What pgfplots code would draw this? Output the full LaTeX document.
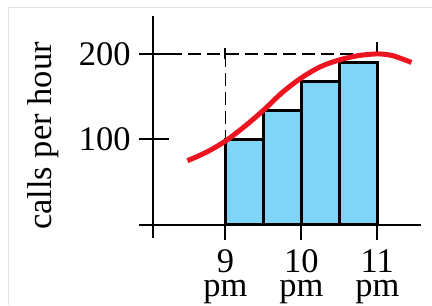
\documentclass[border=0pt]{standalone}
\usepackage{pgfplots}
\pgfplotsset{compat=1.18}
\usetikzlibrary{calc}
\usepackage{fontspec}
\setmainfont{Liberation Serif}
\definecolor{barblue}{RGB}{128,212,245}
\definecolor{curvered}{RGB}{236,20,30}
\begin{document}
\begin{tikzpicture}
\begin{axis}[
  name=ax,
  at={(0,0)}, anchor=south west,
  scale only axis,
  width=282pt, height=222pt,
  xmin=7.86, xmax=11.57,
  ymin=-15.2, ymax=244.4,
  axis line style={draw=none},
  tick style={draw=none},
  clip=false,
  xtick={9,10,11},
  xticklabels={9\\pm,10\\pm,11\\pm},
  ytick={100,200},
  /pgf/number format/assume math mode=true,
  xticklabel style={align=center, font=\fontsize{34.5}{24}\selectfont, inner sep=0pt, yshift=-12pt},
  yticklabel style={font=\fontsize{34.5}{36}\selectfont, inner sep=0pt, xshift=-8pt},
  ylabel={calls per hour},
  ylabel style={at={(rel axis cs:-0.34,0.459)}, anchor=center, font=\fontsize{34.5}{36}\selectfont},
]
% bars
\addplot[ybar interval, fill=barblue, draw=black, line width=2.6pt]
  coordinates {(9,100) (9.5,134) (10,168) (10.5,190) (11,190)};
% axis lines and ticks
\draw[line width=2pt] (axis cs:7.86,0) -- (axis cs:11.57,0);
\draw[line width=2pt] (axis cs:8.04,-15.2) -- (axis cs:8.04,244.4);
\draw[line width=2pt] (axis cs:7.86,100) -- (axis cs:8.26,100);
\draw[line width=2pt] (axis cs:7.86,200) -- (axis cs:8.26,200);
\draw[line width=2pt] (axis cs:9,0) -- (axis cs:9,-18);
\draw[line width=2pt] (axis cs:10,0) -- (axis cs:10,-18);
\draw[line width=2pt] (axis cs:11,0) -- (axis cs:11,-18);
\draw[line width=2pt] (axis cs:9,194) -- (axis cs:9,207);
\draw[line width=2pt] (axis cs:11,200) -- (axis cs:11,214);
% dashed guides
\draw[line width=1.8pt, dash pattern=on 13pt off 6pt] (axis cs:8.26,200) -- (axis cs:11.22,200);
\draw[line width=1.8pt, dash pattern=on 13pt off 6pt] (axis cs:9,200) -- (axis cs:9,100);
% curve
\addplot[smooth, curvered, line width=5pt] coordinates {
  (8.5,75) (8.75,85) (9.0,98) (9.25,115) (9.5,134) (9.75,155) (10.0,172)
  (10.25,185) (10.5,193) (10.75,198) (11.0,200) (11.2,198) (11.45,190)};
\end{axis}
\path (ax.south west) ++(-139pt,-67pt) rectangle ++(432pt,305pt);
\draw[black!12, line width=0.8pt] ($(ax.south west)+(-131pt,-67pt)$) -- ++(0,298pt) -- ++(424pt,0);
\end{tikzpicture}
\end{document}
